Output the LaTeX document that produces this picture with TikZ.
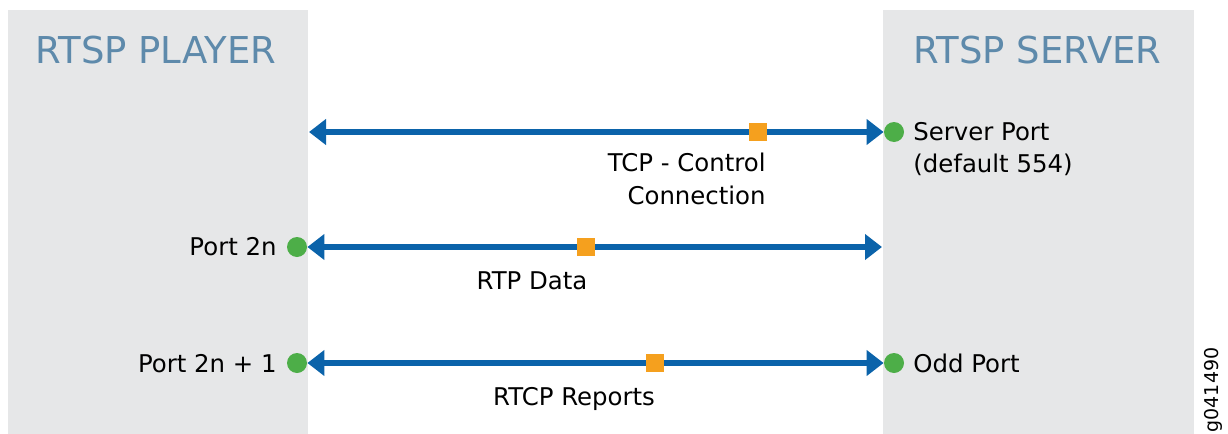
\documentclass[tikz,border=0pt]{standalone}
\usepackage{fontspec}
\setmainfont{DejaVu Sans}
\usetikzlibrary{arrows.meta}
\definecolor{panelgray}{HTML}{E6E7E8}
\definecolor{titleblue}{HTML}{5E8AAB}
\definecolor{linkblue}{HTML}{0B63AA}
\definecolor{portgreen}{HTML}{4DAE48}
\definecolor{markorange}{HTML}{F5A01E}
\begin{document}
\begin{tikzpicture}[x=0.5pt,y=-0.5pt,
    port/.style={circle,fill=portgreen,inner sep=0pt,minimum size=10pt},
    marker/.style={rectangle,fill=markorange,inner sep=0pt,minimum size=9pt},
    link/.style={line width=3pt,draw=linkblue,{Triangle[length=8.5pt,width=12.5pt]}-{Triangle[length=8.5pt,width=12.5pt]}},
    lbl/.style={font=\fontsize{12.2}{16.5}\selectfont,inner sep=0pt},
    title/.style={font=\fontsize{18.5}{22}\selectfont,text=titleblue,inner sep=0pt}]
  \useasboundingbox (0,0) rectangle (1228,434);
  % the two ends
  \fill[panelgray] (8,10) rectangle (308,434);
  \fill[panelgray] (883,10) rectangle (1194,434);
  \node[title,anchor=base west] (player) at (35,63) {RTSP PLAYER};
  \node[title,anchor=base west] (server) at (913,63) {RTSP SERVER};
  % ports
  \node[port] (srvport) at (894,132) {};
  \node[port] (even) at (297,247) {};
  \node[port] (odd) at (297,363) {};
  \node[port] (oddsrv) at (894,363) {};
  \coordinate (tcpleft) at (309,132);
  \coordinate (rtpright) at (882,247);
  \node[lbl,anchor=base west] (srvtext) at (913,140) {Server Port};
  \node[lbl,anchor=base west] (srvdef) at (913,172) {(default 554)};
  \node[lbl,anchor=base east] (eventext) at (277,255) {Port 2n};
  \node[lbl,anchor=base east] (oddtext) at (277,372) {Port 2n + 1};
  \node[lbl,anchor=base west] (oddsrvtext) at (913,372) {Odd Port};
  % connections
  \draw[link] (tcpleft) -- (srvport);
  \draw[link] (even) -- (rtpright);
  \draw[link] (odd) -- (oddsrv);
  \node[marker] (tcpmark) at (758,132) {};
  \node[marker] (rtpmark) at (586,247) {};
  \node[marker] (rtcpmark) at (655,363) {};
  \node[lbl,anchor=base east] (tcptext) at (766,171) {TCP - Control};
  \node[lbl,anchor=base east] (tcptext2) at (766,204) {Connection};
  \node[lbl,anchor=base] (rtptext) at (532,289) {RTP Data};
  \node[lbl,anchor=base] (rtcptext) at (574,405) {RTCP Reports};
  \node[font=\fontsize{9.5}{10}\selectfont,rotate=90,inner sep=0pt] (figid) at (1213,390) {g041490};
\end{tikzpicture}
\end{document}
